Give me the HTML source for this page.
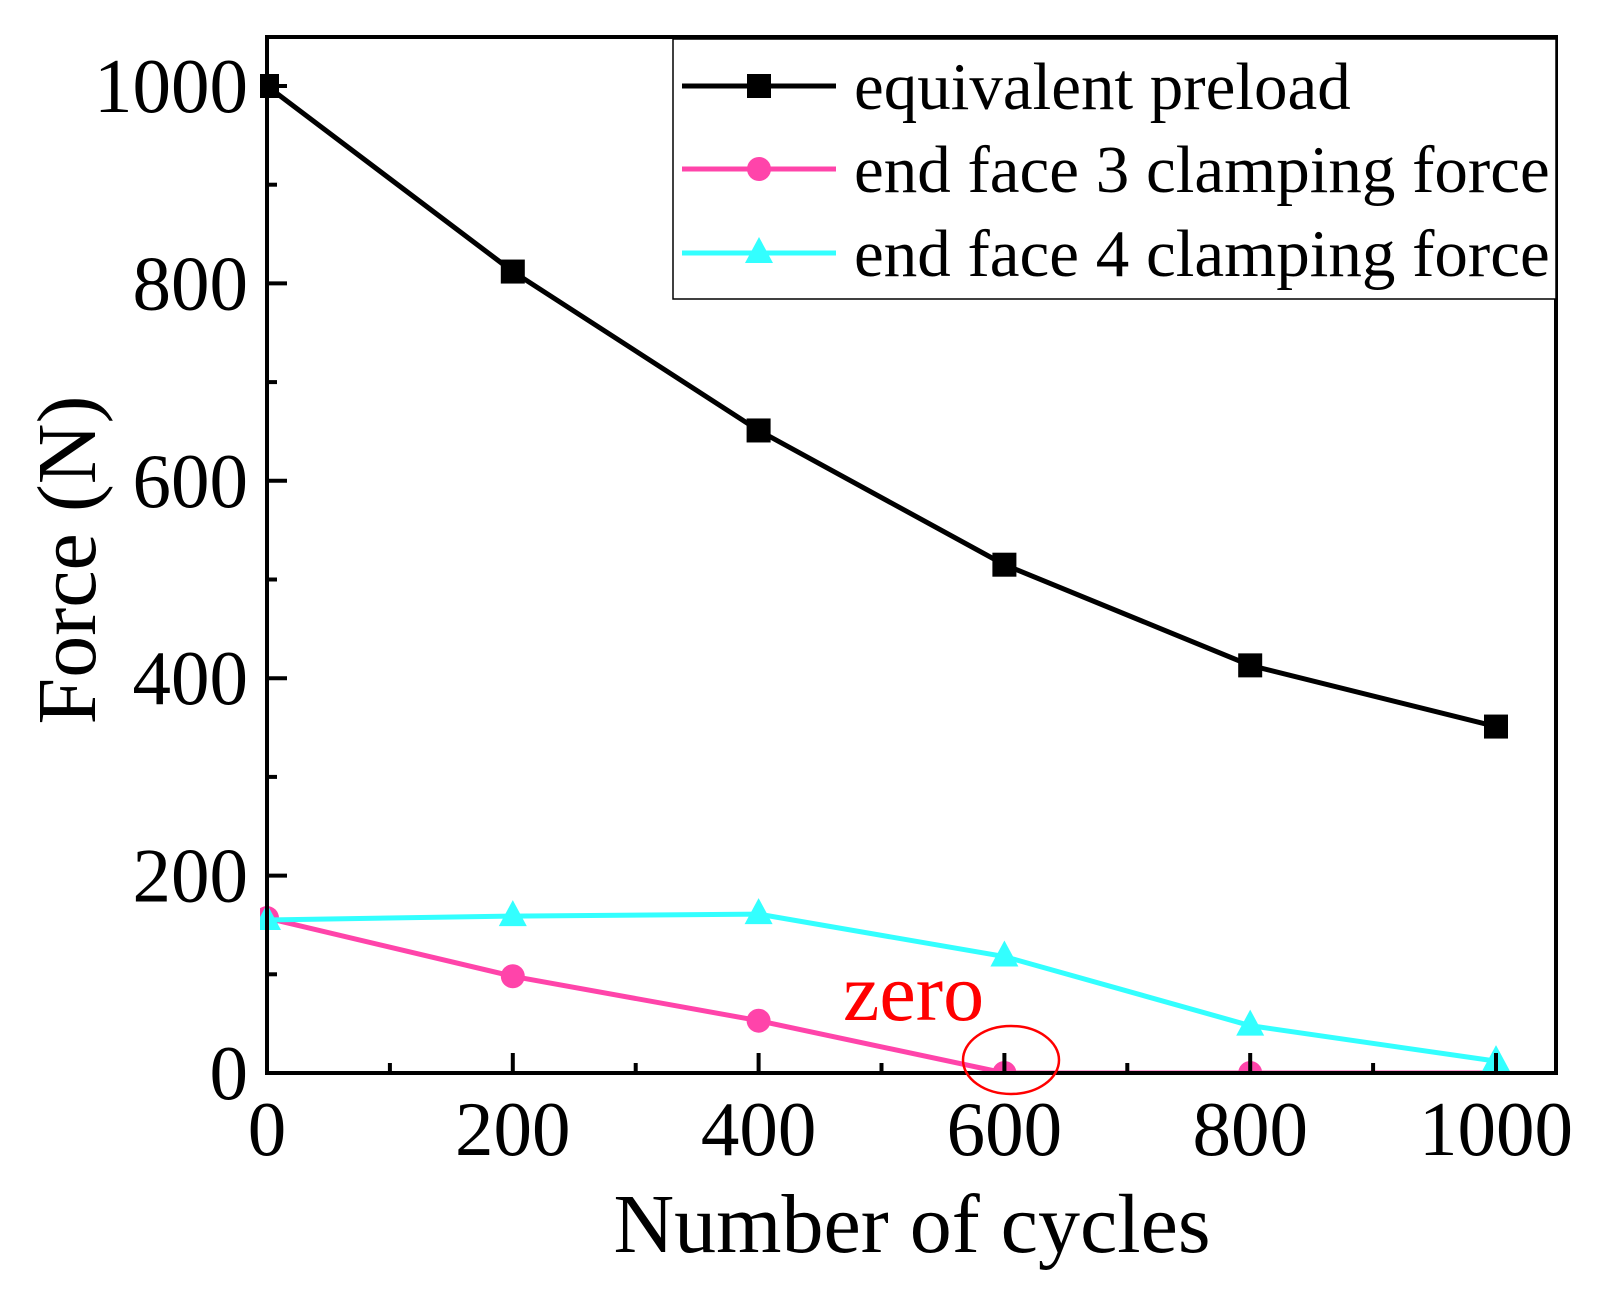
<!DOCTYPE html>
<html><head><meta charset="utf-8"><style>
html,body{margin:0;padding:0;background:#fff}
svg{display:block;font-family:"Liberation Serif",serif}
</style></head><body>
<svg id="chart" width="1602" height="1293" viewBox="0 0 1602 1293" xmlns="http://www.w3.org/2000/svg">
<defs><clipPath id="pc"><rect x="260" y="30" width="1300" height="1041"/></clipPath></defs>
<g id="plot"></g>
</svg>
<script>
const categories = [0, 200, 400, 600, 800, 1000];
const preload = [1000, 812, 651, 515, 413, 351];
const face3 = [157, 98, 53, 0, 0, 0];
const face4 = [155, 159, 161, 118, 48, 12];
const xTicks = ["0","200","400","600","800","1000"];
const yTicks = ["0","200","400","600","800","1000"];

const L=267,R=1556,T=37,B=1073;
const X=v=>267+v*1.229;
const Y=v=>1073-v*0.987;
const NS="http://www.w3.org/2000/svg";
const g=document.getElementById('plot');
function mk(t,a,p){const e=document.createElementNS(NS,t);for(const k in a)e.setAttribute(k,a[k]);(p||g).appendChild(e);return e;}

const data=mk('g',{'clip-path':'url(#pc)'});



function marker(type,cx,cy,color,name,parent){
  let m;
  if(type==='sq') m=mk('rect',{x:cx-12,y:cy-12,width:24,height:24,fill:color},parent);
  else if(type==='ci') m=mk('circle',{cx:cx,cy:cy,r:12,fill:color},parent);
  else m=mk('polygon',{points:`${cx},${cy-16} ${cx-14},${cy+10} ${cx+14},${cy+10}`,fill:color},parent);
  
  
}
function series(vals,color,type,name){
  const pts=vals.map((v,i)=>X(categories[i])+','+Y(v)).join(' ');
  let pl=mk('polyline',{points:pts,fill:'none',stroke:color,'stroke-width':5},data);
  
  
  vals.forEach((v,i)=>marker(type,X(categories[i]),Y(v),color,name+'-point',data));
}
series(face3,'#ff44aa','ci','face3');
series(face4,'#33ffff','tr','face4');
series(preload,'#000','sq','preload');

let fr=mk('rect',{x:L,y:T,width:R-L,height:B-T,fill:'none',stroke:'#000','stroke-width':4});



for(let v=0;v<=1000;v+=100){
  const major=v%200===0;
  let tx=mk('line',{x1:X(v),x2:X(v),y1:B,y2:B-(major?20:10),stroke:'#000','stroke-width':4});
  
  
  let ty=mk('line',{x1:L,x2:L+(major?20:10),y1:Y(v),y2:Y(v),stroke:'#000','stroke-width':4});
  
  
}
categories.forEach((c,i)=>{
  let t=mk('text',{x:X(c),y:1155,'font-size':77,'text-anchor':'middle'});
  t.textContent=xTicks[i];
  
  
});
[0,200,400,600,800,1000].forEach((v,i)=>{
  let t=mk('text',{x:248,y:Y(v)+26,'font-size':77,'text-anchor':'end'});
  t.textContent=yTicks[i];
  
  
});
let xt=mk('text',{x:912,y:1252,'font-size':84,'text-anchor':'middle'});
xt.textContent='Number of cycles';


let yt=mk('text',{x:0,y:0,'font-size':84,'text-anchor':'middle',transform:'translate(95,560) rotate(-90)'});
yt.textContent='Force (N)';



let z=mk('text',{x:843,y:1020,'font-size':82,fill:'#ff0000'});
z.textContent='zero';


let el=mk('ellipse',{cx:1011,cy:1060,rx:48,ry:34,fill:'none',stroke:'#ff0000','stroke-width':2.5});



let lb=mk('rect',{x:673,y:39,width:883,height:260,fill:'#fff',stroke:'#000','stroke-width':1.5});


const legNames=['equivalent preload','end face 3 clamping force','end face 4 clamping force'];
const legColors=['#000','#ff44aa','#33ffff'];
const legTypes=['sq','ci','tr'];
const legY=[86,169,253];
legNames.forEach((n,i)=>{
  let ln=mk('line',{x1:682,x2:836,y1:legY[i],y2:legY[i],stroke:legColors[i],'stroke-width':5});
  
  
  marker(legTypes[i],759,legY[i],legColors[i],'legend-marker');
  let t=mk('text',{x:854,y:legY[i]+23,'font-size':67});
  t.textContent=n;
  
  
});
</script>
</body></html>
